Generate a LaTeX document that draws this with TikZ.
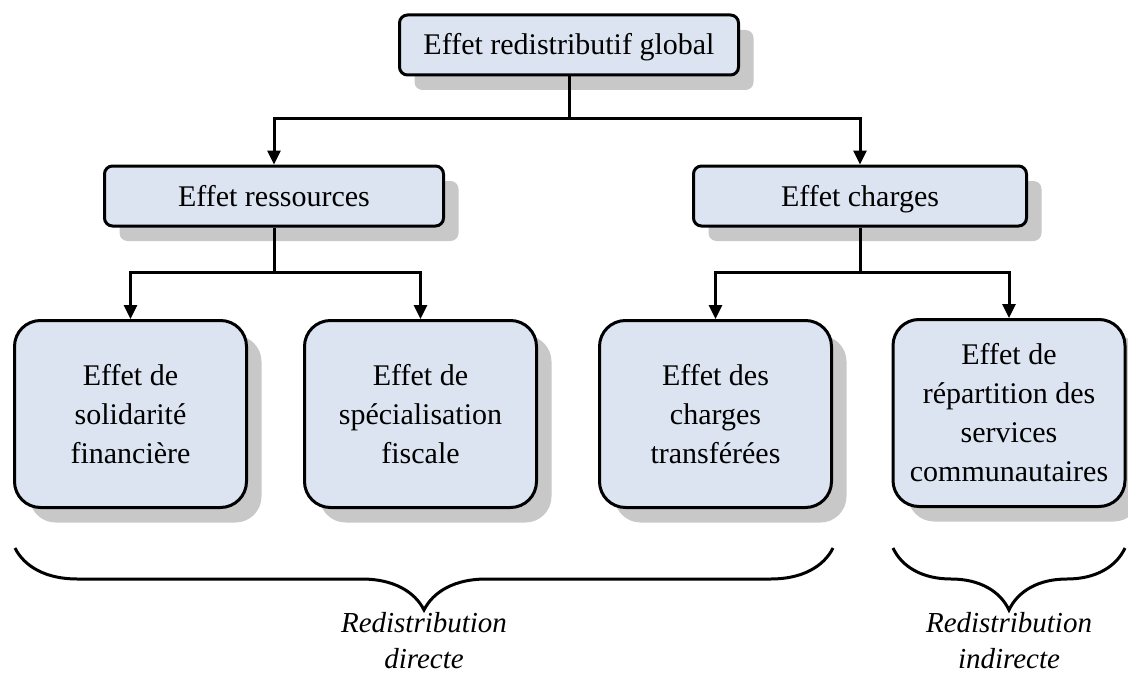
\documentclass[tikz,border=0pt]{standalone}
\usepackage{fontspec}
\setmainfont{Liberation Serif}
\usetikzlibrary{arrows.meta,shadows,decorations.pathreplacing}
\definecolor{boxfill}{HTML}{DBE4F0}
\definecolor{shadowgray}{HTML}{C8C8C8}
\begin{document}
\begin{tikzpicture}[x=1pt,y=-1pt,
  box/.style={draw=black, line width=3pt, fill=boxfill, align=center,
    font=\fontsize{30}{39}\selectfont,
    drop shadow={shadow xshift=15pt, shadow yshift=-15pt, fill=shadowgray, opacity=1}},
  topbox/.style={box, rounded corners=8pt, minimum height=60pt, text height=20pt, text depth=0pt},
  leafbox/.style={box, rounded corners=26pt, minimum width=232pt, minimum height=187pt, inner sep=2pt},
  arr/.style={line width=3pt, -{Triangle[length=14pt,width=13pt]}},
  brc/.style={line width=3pt, decorate, decoration={brace, mirror, amplitude=62pt}},
  lbl/.style={font=\fontsize{29}{36}\selectfont\itshape, align=center}]
\useasboundingbox (0,0) rectangle (1128,685);

\node[topbox, minimum width=339pt] (top) at (569,45) {Effet redistributif global};
\node[topbox, minimum width=339pt] (res) at (274,196) {Effet ressources};
\node[topbox, minimum width=333pt] (chg) at (860,196) {Effet charges};

\node[leafbox] (l1) at (130.5,414) {Effet de\\solidarité\\financière};
\node[leafbox] (l2) at (420.5,414) {Effet de\\spécialisation\\fiscale};
\node[leafbox] (l3) at (715.5,414) {Effet des\\charges\\transférées};
\node[leafbox] (l4) at (1009,413) {Effet de\\répartition des\\services\\communautaires};

\coordinate (j0) at (569,118);
\coordinate (j1) at (274,272);
\coordinate (j2) at (860,272);

\draw[arr] (top.south) -- (j0) -| (res.north);
\draw[arr] (j0) -| (chg.north);
\draw[arr] (res.south) -- (j1) -| (l1.north);
\draw[arr] (j1) -| (l2.north);
\draw[arr] (chg.south) -- (j2) -| (l3.north);
\draw[arr] (j2) -| (l4.north);

\coordinate (b1s) at (15,548);
\coordinate (b1e) at (833,548);
\coordinate (b2s) at (893,548);
\coordinate (b2e) at (1125,548);
\draw[brc] (b1s) -- (b1e);
\draw[brc] (b2s) -- (b2e);

\node[lbl] (d1) at (424,641) {Redistribution\\directe};
\node[lbl] (d2) at (1009,641) {Redistribution\\indirecte};
\end{tikzpicture}
\end{document}
